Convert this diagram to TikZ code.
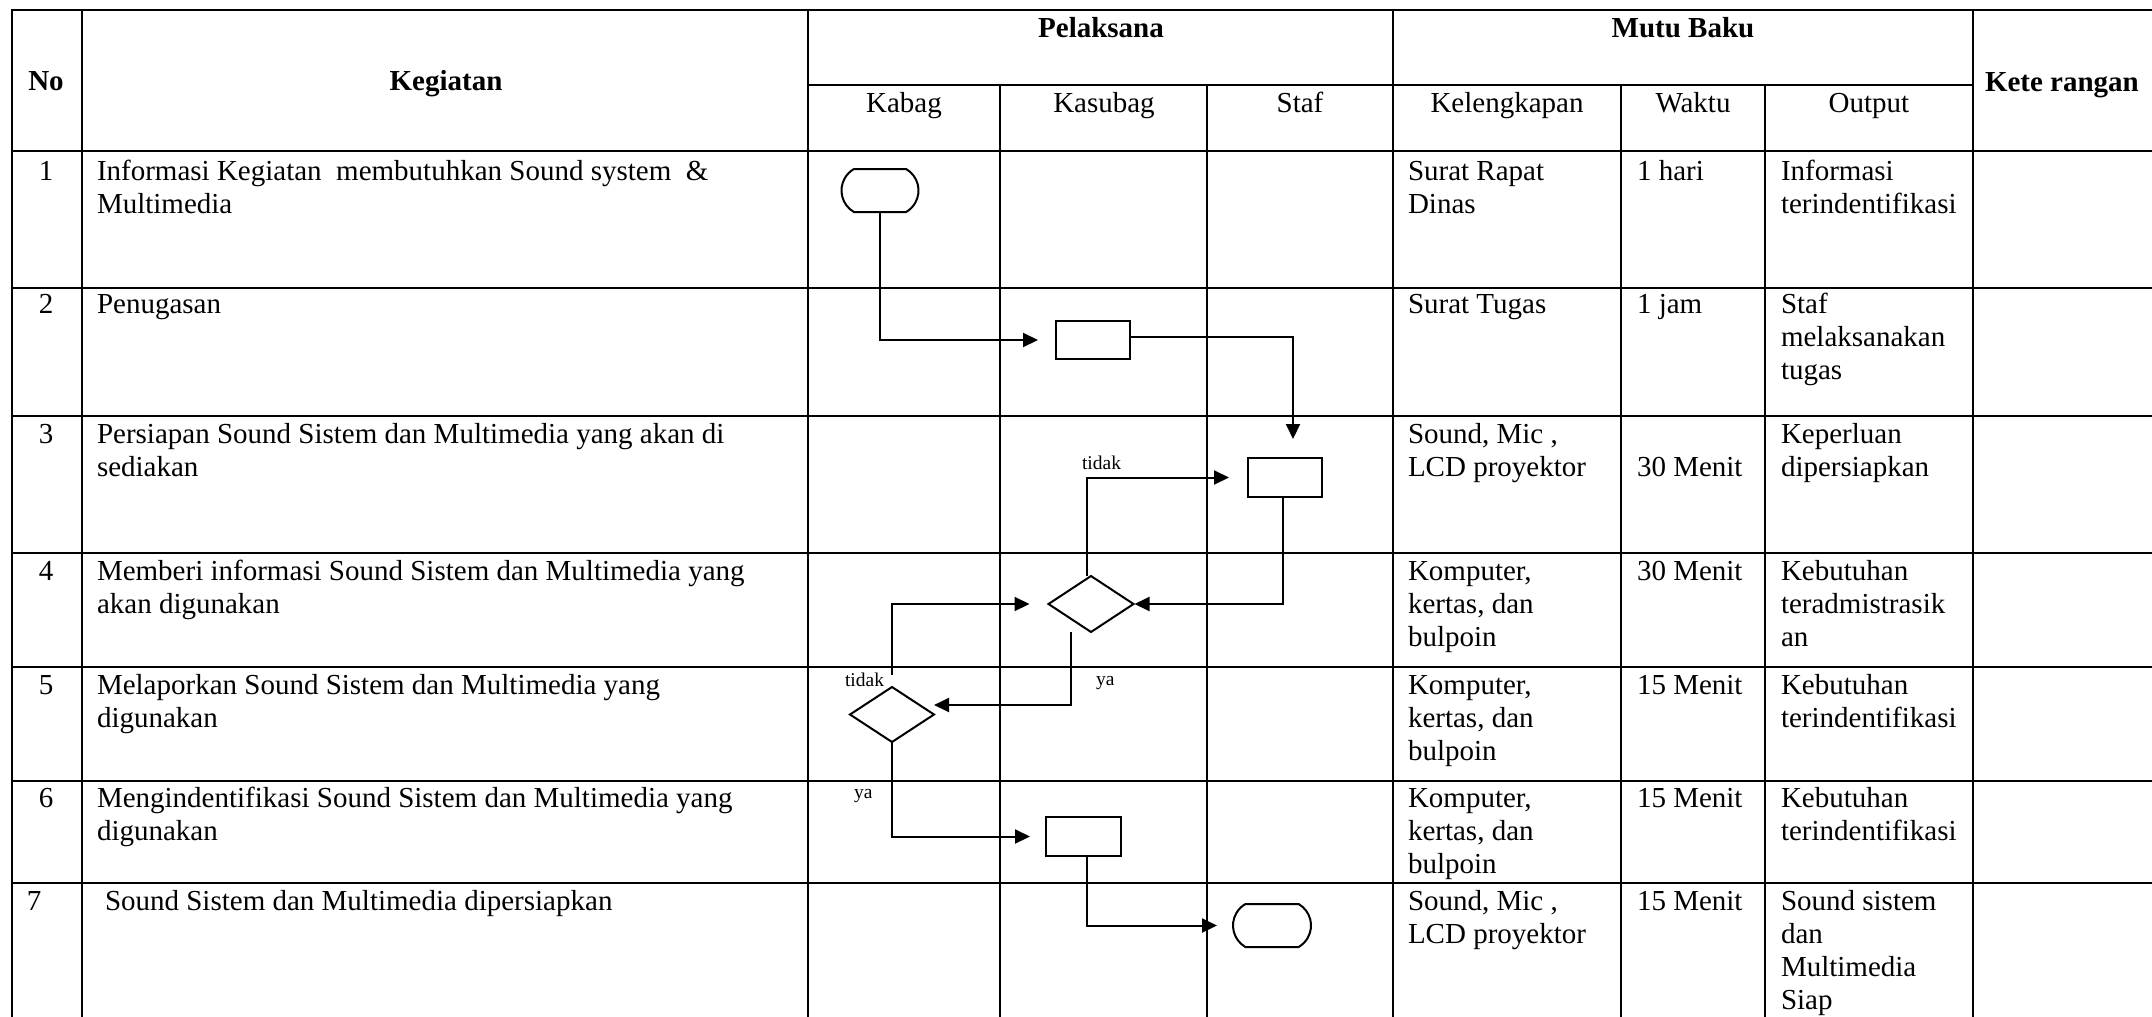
\documentclass[tikz,border=0pt]{standalone}
\usepackage{fontspec}
\setmainfont{Liberation Serif}
\usetikzlibrary{shapes.geometric,shapes.misc,arrows.meta}
\begin{document}
\begin{tikzpicture}[x=1pt,y=-1pt,
  grid/.style={line width=2.2pt,line cap=rect},
  tx/.style={inner sep=0pt,outer sep=0pt,anchor=base west,font=\fontsize{29}{33}\selectfont},
  txc/.style={inner sep=0pt,outer sep=0pt,anchor=base,font=\fontsize{29}{33}\selectfont},
  hd/.style={inner sep=0pt,outer sep=0pt,anchor=base,font=\fontsize{29}{33}\selectfont\bfseries},
  lbl/.style={inner sep=0pt,outer sep=0pt,anchor=base west,font=\fontsize{19.5}{22}\selectfont},
  proc/.style={draw,line width=2pt,rectangle,minimum width=74pt,minimum height=38pt,inner sep=0pt,outer sep=0pt},
  term/.style={draw,line width=2pt,rounded rectangle,rounded rectangle arc length=120,minimum width=77pt,minimum height=43pt,inner sep=0pt,outer sep=0pt},
  dec/.style={draw,line width=2pt,diamond,minimum width=85pt,minimum height=56pt,inner sep=0pt,outer sep=0pt},
  arr/.style={line width=2pt,-{Triangle[length=15pt,width=14pt]}}]
\path[use as bounding box] (0,0) rectangle (2152,1017);
\clip (0,0) rectangle (2152,1017);
% table grid
\foreach \y in {10,151,288,416,553,667,781,883} \draw[grid] (12,\y) -- (2175,\y);
\draw[grid] (808,85) -- (1973,85);
\foreach \x in {12,82,808,1393,1973} \draw[grid] (\x,10) -- (\x,1040);
\foreach \x in {1000,1207,1621,1765} \draw[grid] (\x,85) -- (\x,1040);
% headers
\node[hd] (hNo) at (46,90) {No};
\node[hd] (hKeg) at (446,90) {Kegiatan};
\node[hd] (hPel) at (1101,37) {Pelaksana};
\node[hd] (hMutu) at (1683,37) {Mutu Baku};
\node[hd,anchor=base west] (hKet) at (1985,91) {Kete rangan};
\node[txc] (hKabag) at (904,112) {Kabag};
\node[txc] (hKasubag) at (1104,112) {Kasubag};
\node[txc] (hStaf) at (1300,112) {Staf};
\node[txc] (hKel) at (1507,112) {Kelengkapan};
\node[txc] (hWaktu) at (1693,112) {Waktu};
\node[txc] (hOut) at (1869,112) {Output};
% row numbers
\node[txc] (n1) at (46,180) {1};
\node[txc] (n2) at (46,313) {2};
\node[txc] (n3) at (46,443) {3};
\node[txc] (n4) at (46,580) {4};
\node[txc] (n5) at (46,694) {5};
\node[txc] (n6) at (46,807) {6};
\node[tx] (n7) at (27,910) {7};
% kegiatan
\node[tx] (k1a) at (97,180) {Informasi Kegiatan\ \ membutuhkan Sound system\ \ \&};
\node[tx] (k1b) at (97,213) {Multimedia};
\node[tx] (k2a) at (97,313) {Penugasan};
\node[tx] (k3a) at (97,443) {Persiapan Sound Sistem dan Multimedia yang akan di};
\node[tx] (k3b) at (97,476) {sediakan};
\node[tx] (k4a) at (97,580) {Memberi informasi Sound Sistem dan Multimedia yang};
\node[tx] (k4b) at (97,613) {akan digunakan};
\node[tx] (k5a) at (97,694) {Melaporkan Sound Sistem dan Multimedia yang};
\node[tx] (k5b) at (97,727) {digunakan};
\node[tx] (k6a) at (97,807) {Mengindentifikasi Sound Sistem dan Multimedia yang};
\node[tx] (k6b) at (97,840) {digunakan};
\node[tx] (k7a) at (105,910) {Sound Sistem dan Multimedia dipersiapkan};
% kelengkapan
\node[tx] (l1a) at (1408,180) {Surat Rapat};
\node[tx] (l1b) at (1408,213) {Dinas};
\node[tx] (l2a) at (1408,313) {Surat Tugas};
\node[tx] (l3a) at (1408,443) {Sound, Mic ,};
\node[tx] (l3b) at (1408,476) {LCD proyektor};
\node[tx] (l4a) at (1408,580) {Komputer,};
\node[tx] (l4b) at (1408,613) {kertas, dan};
\node[tx] (l4c) at (1408,646) {bulpoin};
\node[tx] (l5a) at (1408,694) {Komputer,};
\node[tx] (l5b) at (1408,727) {kertas, dan};
\node[tx] (l5c) at (1408,760) {bulpoin};
\node[tx] (l6a) at (1408,807) {Komputer,};
\node[tx] (l6b) at (1408,840) {kertas, dan};
\node[tx] (l6c) at (1408,873) {bulpoin};
\node[tx] (l7a) at (1408,910) {Sound, Mic ,};
\node[tx] (l7b) at (1408,943) {LCD proyektor};
% waktu
\node[tx] (w1) at (1637,180) {1 hari};
\node[tx] (w2) at (1637,313) {1 jam};
\node[tx] (w3) at (1637,476) {30 Menit};
\node[tx] (w4) at (1637,580) {30 Menit};
\node[tx] (w5) at (1637,694) {15 Menit};
\node[tx] (w6) at (1637,807) {15 Menit};
\node[tx] (w7) at (1637,910) {15 Menit};
% output
\node[tx] (o1a) at (1781,180) {Informasi};
\node[tx] (o1b) at (1781,213) {terindentifikasi};
\node[tx] (o2a) at (1781,313) {Staf};
\node[tx] (o2b) at (1781,346) {melaksanakan};
\node[tx] (o2c) at (1781,379) {tugas};
\node[tx] (o3a) at (1781,443) {Keperluan};
\node[tx] (o3b) at (1781,476) {dipersiapkan};
\node[tx] (o4a) at (1781,580) {Kebutuhan};
\node[tx] (o4b) at (1781,613) {teradmistrasik};
\node[tx] (o4c) at (1781,646) {an};
\node[tx] (o5a) at (1781,694) {Kebutuhan};
\node[tx] (o5b) at (1781,727) {terindentifikasi};
\node[tx] (o6a) at (1781,807) {Kebutuhan};
\node[tx] (o6b) at (1781,840) {terindentifikasi};
\node[tx] (o7a) at (1781,910) {Sound sistem};
\node[tx] (o7b) at (1781,943) {dan};
\node[tx] (o7c) at (1781,976) {Multimedia};
\node[tx] (o7d) at (1781,1009) {Siap};
% flowchart shapes
\node[term] (T1) at (880,190.5) {};
\node[proc] (R2) at (1093,340) {};
\node[proc,minimum height=39pt] (R3) at (1285,477.5) {};
\node[dec] (D4) at (1091,604) {};
\node[dec,minimum width=84pt,minimum height=55pt] (D5) at (892,714.5) {};
\node[proc,minimum width=75pt,minimum height=39pt] (R6) at (1083.5,836.5) {};
\node[term,minimum width=78pt] (T7) at (1272,925.5) {};
% connectors
\draw[arr] (T1.south) |- ([xshift=-18pt]R2.west);
\draw[arr] ([yshift=3pt]R2.east) -| ([xshift=8pt,yshift=19pt]R3.north);
\draw[arr] ([xshift=-2pt]R3.south) |- ([xshift=1pt]D4.east);
\draw[arr] ([xshift=-4pt]D4.north) |- ([xshift=-19pt]R3.west);
\draw[arr] ([xshift=-20pt]D4.south) |- ([yshift=9.5pt]D5.east);
\draw[arr] ([yshift=12pt]D5.north) |- ([xshift=-19pt]D4.west);
\draw[arr] (D5.south) |- ([xshift=-16pt]R6.west);
\draw[arr] ([xshift=3pt]R6.south) |- ([xshift=-16pt]T7.west);
% labels
\node[lbl] (lt1) at (1082,469) {tidak};
\node[lbl] (lt2) at (845,686) {tidak};
\node[lbl] (ly1) at (1096,685) {ya};
\node[lbl] (ly2) at (854,798) {ya};
\end{tikzpicture}
\end{document}
